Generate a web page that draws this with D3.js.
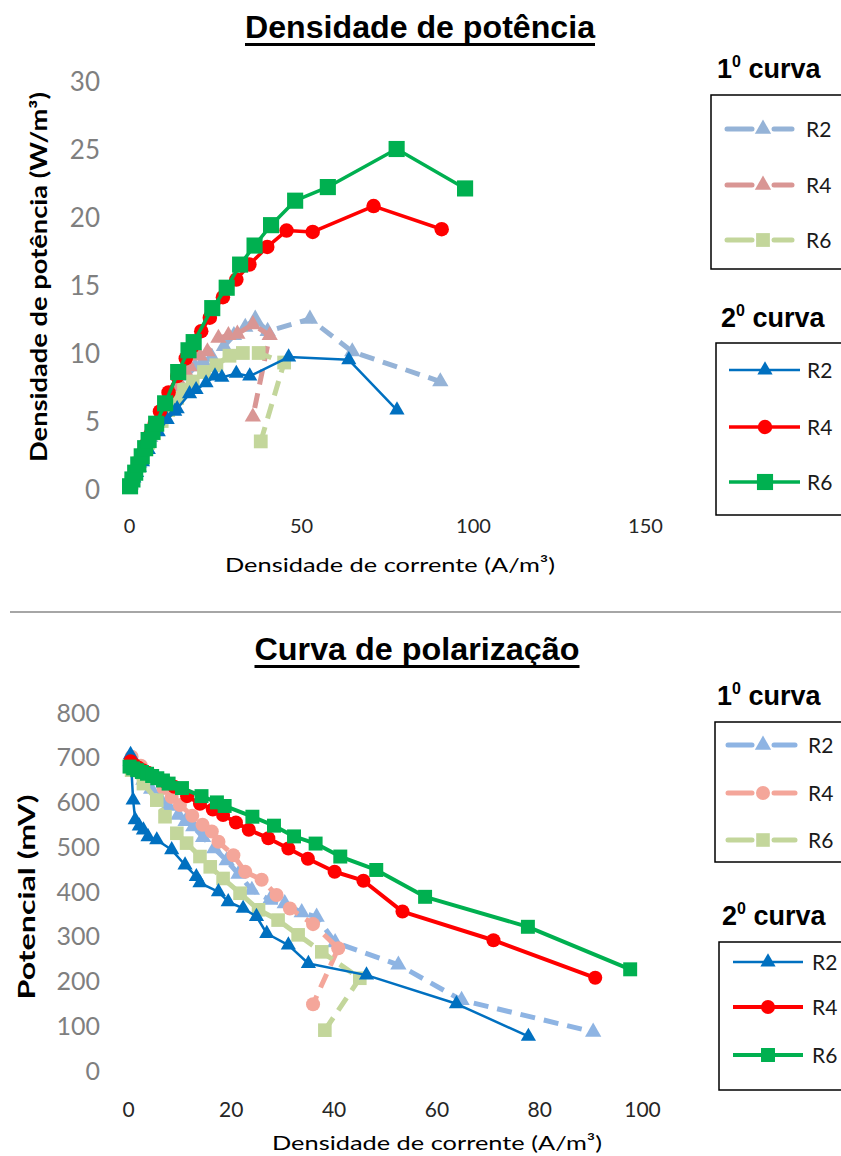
<!DOCTYPE html>
<html><head><meta charset="utf-8">
<script src="https://cdn.jsdelivr.net/npm/d3@7"></script>
<style>body{margin:0;background:#fff} svg{display:block}</style>
</head><body><svg id="c" width="841" height="1156"></svg>
<script>
// ---------------- DATA ----------------
const seriesNames = ["R2", "R4", "R6"];
const legendTitles = ["1", "2"]; // "1º curva", "2º curva"
const xTicksPot = [0, 50, 100, 150];
const yTicksPot = [0, 5, 10, 15, 20, 25, 30];
const xTicksPol = [0, 20, 40, 60, 80, 100];
const yTicksPol = [0, 100, 200, 300, 400, 500, 600, 700, 800];

// 1ª curva R2 (current A/m3, power W/m3, potential mV)
const c1_R2_I = [0.5, 1.5, 3.0, 4.5, 6.2, 7.8, 9.8, 11.2, 12.7, 14.6, 16.8, 19.2, 21.5, 24.1, 27.6, 30.5, 33.8, 36.7, 40.3, 52.6, 64.9, 90.5];
const c1_R2_P = [0.3, 1.0, 1.9, 2.8, 3.8, 4.6, 5.6, 6.2, 6.9, 7.6, 8.3, 9.0, 9.4, 9.7, 10.5, 11.3, 11.9, 12.5, 11.6, 12.5, 10.1, 7.9];
const c1_R2_V = [690, 668, 648, 628, 607, 590, 570, 556, 544, 520, 495, 468, 438, 402, 380, 372, 352, 342, 285, 235, 156, 85];
// 1ª curva R4
const c1_R4_I = [0.7, 2.5, 4.5, 6.9, 8.5, 10.1, 12.5, 14.5, 16.3, 17.6, 20.5, 22.8, 26.0, 28.9, 31.5, 36.0, 40.9, 36.0];
const c1_R4_P = [0.5, 1.7, 3.0, 4.3, 5.2, 6.0, 7.1, 7.9, 8.7, 9.0, 9.8, 10.1, 11.1, 11.3, 11.4, 12.1, 11.3, 5.3];
const c1_R4_V = [700, 680, 660, 630, 610, 592, 568, 548, 533, 510, 480, 443, 425, 391, 361, 326, 272, 147];
// 1ª curva R6
const c1_R6_I = [0.7, 3.0, 5.6, 7.2, 9.5, 11.4, 14.0, 16.0, 18.5, 21.8, 25.4, 29.2, 33.1, 37.7, 45.1, 38.3];
const c1_R6_P = [0.5, 1.9, 3.4, 4.1, 5.0, 5.8, 6.7, 7.3, 7.9, 8.6, 9.1, 9.8, 10.0, 10.0, 9.3, 3.5];
const c1_R6_V = [670, 640, 603, 566, 529, 507, 477, 454, 428, 395, 358, 335, 302, 264, 205, 89];
// 2ª curva R2
const c2_R2_I = [0.5, 1.0, 1.4, 2.2, 3.0, 3.9, 5.6, 8.5, 11.1, 13.3, 14.0, 17.6, 19.5, 22.4, 25.0, 27.0, 31.2, 35.1, 46.4, 63.9, 77.9];
const c2_R2_P = [0.35, 0.6, 0.8, 1.2, 1.6, 2.0, 2.9, 4.2, 5.1, 5.7, 5.9, 7.0, 7.3, 7.8, 8.3, 8.2, 8.5, 8.3, 9.7, 9.5, 5.8];
const c2_R2_V = [705, 603, 559, 545, 536, 521, 514, 492, 458, 432, 418, 398, 376, 361, 343, 305, 279, 238, 212, 148, 75];
// 2ª curva R4
const c2_R4_I = [0.5, 1.2, 2.0, 2.9, 3.9, 5.0, 6.2, 7.5, 9.0, 11.5, 14.0, 16.5, 18.5, 21.0, 23.5, 27.3, 31.2, 35.0, 40.2, 45.8, 53.4, 71.1, 90.9];
const c2_R4_P = [0.3, 0.8, 1.4, 1.9, 2.6, 3.3, 4.0, 4.8, 5.7, 7.1, 8.3, 9.6, 10.5, 11.6, 12.6, 14.1, 15.4, 16.5, 17.8, 19.0, 18.9, 20.8, 19.1];
const c2_R4_V = [690, 682, 676, 670, 664, 657, 650, 642, 633, 612, 595, 582, 570, 553, 537, 518, 495, 472, 443, 423, 354, 290, 206];
// 2ª curva R6
const c2_R6_I = [0.3, 1.0, 1.8, 2.7, 3.7, 4.7, 5.7, 6.8, 7.9, 10.5, 14.3, 17.3, 18.8, 24.2, 28.4, 32.3, 36.5, 41.3, 48.3, 57.8, 77.8, 97.7];
const c2_R6_P = [0.2, 0.7, 1.2, 1.8, 2.4, 3.0, 3.6, 4.2, 4.8, 6.3, 8.6, 10.2, 10.8, 13.3, 14.8, 16.5, 17.9, 19.4, 21.2, 22.2, 25.0, 22.1];
const c2_R6_V = [678, 674, 670, 666, 662, 657, 652, 647, 640, 630, 612, 598, 590, 566, 546, 522, 506, 477, 447, 387, 320, 225];

// ---------------- STYLES ----------------
const FONT = "Lato, 'Open Sans', sans-serif";
const HEAD = "'Liberation Sans Narrow', 'Liberation Sans', Arial, sans-serif";
const tri = d3.symbolTriangle, cir = d3.symbolCircle, sq = d3.symbolSquare;

const potSeries = [
  {I: c1_R2_I, v: c1_R2_P, color: "#95B3D7", sym: tri, size: 115, w: 5, dash: "15,9"},
  {I: c1_R4_I, v: c1_R4_P, color: "#D99694", sym: tri, size: 115, w: 5, dash: "15,9"},
  {I: c1_R6_I, v: c1_R6_P, color: "#C3D69B", sym: sq, size: 190, w: 5, dash: "15,9"},
  {I: c2_R2_I, v: c2_R2_P, color: "#0070C0", sym: tri, size: 100, w: 2.5, dash: null},
  {I: c2_R4_I, v: c2_R4_P, color: "#FF0000", sym: cir, size: 165, w: 3.5, dash: null},
  {I: c2_R6_I, v: c2_R6_P, color: "#00B050", sym: sq, size: 260, w: 3.5, dash: null}
];
const polSeries = [
  {I: c1_R2_I, v: c1_R2_V, color: "#8EB4E3", sym: tri, size: 115, w: 5, dash: "15,9"},
  {I: c1_R4_I, v: c1_R4_V, color: "#F4A69A", sym: cir, size: 155, w: 5, dash: "15,9"},
  {I: c1_R6_I, v: c1_R6_V, color: "#C3D69B", sym: sq, size: 185, w: 5, dash: "15,9"},
  {I: c2_R2_I, v: c2_R2_V, color: "#0070C0", sym: tri, size: 100, w: 2.5, dash: null},
  {I: c2_R4_I, v: c2_R4_V, color: "#FF0000", sym: cir, size: 155, w: 4, dash: null},
  {I: c2_R6_I, v: c2_R6_V, color: "#00B050", sym: sq, size: 195, w: 4, dash: null}
];

const svg = d3.select("#c");

function title(text, cx, baseline, len) {
  svg.append("text").attr("x", cx).attr("y", baseline)
    .attr("text-anchor", "middle").attr("font-family", HEAD).attr("font-weight", "bold")
    .attr("font-size", 32).attr("fill", "#000").attr("textLength", len)
    .attr("lengthAdjust", "spacingAndGlyphs").text(text);
  svg.append("rect").attr("x", cx - len / 2).attr("y", baseline + 5).attr("width", len).attr("height", 3).attr("fill", "#000");
}

function chart(cfg) {
  const g = svg.append("g");
  const x = d3.scaleLinear().domain(cfg.xd).range(cfg.xr);
  const y = d3.scaleLinear().domain(cfg.yd).range(cfg.yr);
  // y axis
  const ya = g.append("g").attr("transform", `translate(${cfg.xr[0]},0)`)
    .call(d3.axisLeft(y).tickValues(cfg.yTicks).tickSize(0).tickPadding(cfg.yPad));
  ya.select(".domain").remove();
  ya.selectAll("text").attr("font-family", FONT).attr("font-size", cfg.yFs).attr("fill", "#7F7F7F").attr("dy", "0.36em");
  // x axis
  const xa = g.append("g").attr("transform", `translate(0,${cfg.yr[0]})`)
    .call(d3.axisBottom(x).tickValues(cfg.xTicks).tickSize(0));
  xa.select(".domain").remove();
  xa.selectAll("text").attr("font-family", FONT).attr("font-size", cfg.xFs).attr("fill", "#262626")
    .attr("y", cfg.xTickY).attr("dy", 0);
  // series
  const line = d3.line().x(d => x(d[0])).y(d => y(d[1]));
  cfg.series.forEach(s => {
    const pts = s.I.map((v, i) => [v, s.v[i]]);
    g.append("path").datum(pts).attr("d", line).attr("fill", "none")
      .attr("stroke", s.color).attr("stroke-width", s.w)
      .attr("stroke-dasharray", s.dash).attr("stroke-linejoin", "round");
    g.selectAll(null).data(pts).enter().append("path")
      .attr("d", d3.symbol().type(s.sym).size(s.size))
      .attr("transform", d => `translate(${x(d[0])},${y(d[1])})`)
      .attr("fill", s.color);
  });
  // axis titles
  g.append("text").attr("x", cfg.xLab[0]).attr("y", cfg.xLab[1]).attr("text-anchor", "middle")
    .attr("font-family", FONT).attr("font-size", 20).attr("fill", "#000")
    .attr("textLength", cfg.xLab[2]).attr("lengthAdjust", "spacingAndGlyphs")
    .text("Densidade de corrente (A/m³)");
  g.append("text").attr("transform", `translate(${cfg.yLab[0]},${cfg.yLab[1]}) rotate(-90)`)
    .attr("text-anchor", "middle").attr("font-family", FONT).attr("font-weight", "bold")
    .attr("font-size", 22).attr("fill", "#000")
    .attr("textLength", cfg.yLab[2]).attr("lengthAdjust", "spacingAndGlyphs")
    .text(cfg.yLabText);
  // legends
  cfg.legends.forEach((L, li) => {
    const t = svg.append("text").attr("x", L.tx).attr("y", L.ty).attr("font-family", "'Liberation Sans', Arial, sans-serif")
      .attr("font-weight", "bold").attr("font-size", 27).attr("fill", "#000");
    t.append("tspan").text(legendTitles[li]);
    t.append("tspan").attr("font-size", 16).attr("dy", -11).text("0");
    t.append("tspan").attr("dy", 11).text(" curva");
    svg.append("rect").attr("x", L.box[0]).attr("y", L.box[1]).attr("width", 900 - L.box[0]).attr("height", L.box[2] - L.box[1])
      .attr("fill", "none").attr("stroke", "#000").attr("stroke-width", 1.5);
    const ser = cfg.series.slice(li * 3, li * 3 + 3);
    ser.forEach((s, k) => {
      const yy = L.rows[k];
      if (s.dash) {
        svg.append("line").attr("x1", L.line[0]).attr("x2", L.mx - 11).attr("y1", yy).attr("y2", yy)
          .attr("stroke", s.color).attr("stroke-width", s.w).attr("stroke-linecap", "round");
        svg.append("line").attr("x1", L.mx + 11).attr("x2", L.line[1]).attr("y1", yy).attr("y2", yy)
          .attr("stroke", s.color).attr("stroke-width", s.w).attr("stroke-linecap", "round");
      } else {
        svg.append("line").attr("x1", L.line[0]).attr("x2", L.line[1]).attr("y1", yy).attr("y2", yy)
          .attr("stroke", s.color).attr("stroke-width", s.w);
      }
      svg.append("path").attr("d", d3.symbol().type(s.sym).size(s.size)).attr("transform", `translate(${L.mx},${yy})`).attr("fill", s.color);
      svg.append("text").attr("x", L.textX).attr("y", yy).attr("dy", "0.36em").attr("font-family", FONT)
        .attr("font-size", 21).attr("fill", "#1a1a1a").text(seriesNames[k]);
    });
  });
}

// ---------- TOP CHART ----------
title("Densidade de potência", 420, 38, 350);
chart({
  xd: [0, 150], xr: [129, 645], yd: [0, 30], yr: [489, 81],
  xTicks: xTicksPot, yTicks: yTicksPot, yPad: 29, yFs: 26, xFs: 20, xTickY: 44,
  series: potSeries,
  xLab: [390, 572, 330], yLab: [47, 277, 370], yLabText: "Densidade de potência (W/m³)",
  legends: [
    {tx: 717, ty: 78, box: [711, 95, 269], rows: [129, 185, 240], line: [727, 792], mx: 763, textX: 806},
    {tx: 721, ty: 327, box: [716, 343, 515], rows: [370, 427, 482], line: [729, 800], mx: 765, textX: 807}
  ]
});

// divider
svg.append("line").attr("x1", 10).attr("x2", 841).attr("y1", 612).attr("y2", 612).attr("stroke", "#A6A6A6").attr("stroke-width", 2);

// ---------- BOTTOM CHART ----------
title("Curva de polarização", 417, 660, 325);
chart({
  xd: [0, 100], xr: [128, 642], yd: [0, 800], yr: [1070, 712],
  xTicks: xTicksPol, yTicks: yTicksPol, yPad: 28, yFs: 25, xFs: 21, xTickY: 47,
  series: polSeries,
  xLab: [437, 1150, 330], yLab: [35, 897, 205], yLabText: "Potencial  (mV)",
  legends: [
    {tx: 717, ty: 705, box: [715, 722, 862], rows: [745, 793, 840], line: [728, 795], mx: 763, textX: 808},
    {tx: 722, ty: 925, box: [719, 942, 1090], rows: [962, 1007, 1055], line: [733, 803], mx: 768, textX: 812}
  ]
});
</script></body></html>
